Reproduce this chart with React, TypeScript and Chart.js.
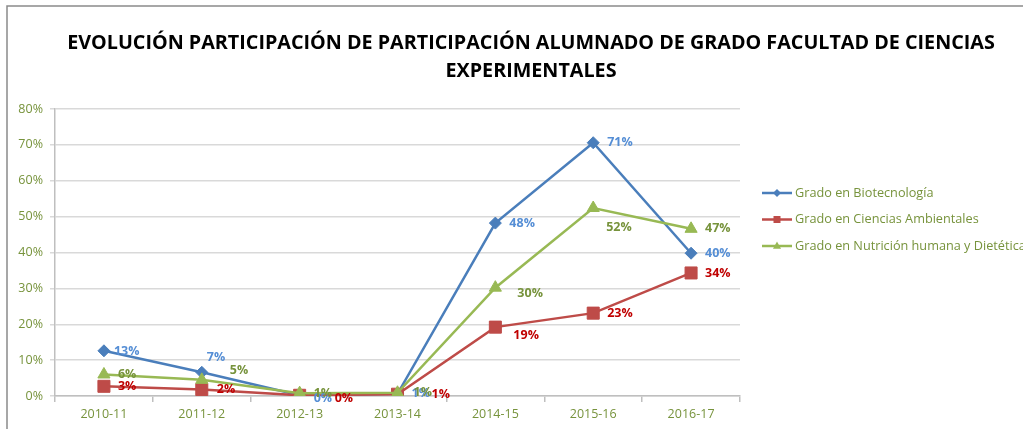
import { useEffect, useRef } from "react";
import { Chart, registerables } from "chart.js";

Chart.register(...registerables);

const titleLines = [
  "EVOLUCIÓN PARTICIPACIÓN DE PARTICIPACIÓN ALUMNADO DE GRADO FACULTAD DE CIENCIAS",
  "EXPERIMENTALES",
];
const categories = ["2010-11", "2011-12", "2012-13", "2013-14", "2014-15", "2015-16", "2016-17"];
const seriesNames = [
  "Grado en Biotecnología",
  "Grado en Ciencias Ambientales",
  "Grado en Nutrición humana y Dietética",
];
const biotecnologia = [12.6, 6.6, 0.2, 0.6, 48.2, 70.6, 39.8];
const cienciasAmbientales = [2.7, 1.8, 0.2, 0.5, 19.2, 23.1, 34.3];
const nutricion = [6.0, 4.5, 0.8, 0.9, 30.2, 52.4, 46.6];
const yMin = 0;
const yMax = 80;
const yStep = 10;

// label offsets (dx, dy) relative to each point
const labelOffsets = [
  [[10, 1], [5, -15], [14, 3], [14, 0], [14, 0], [14, 0], [14, 0]],
  [[14, 0], [15, 0], [35, 3], [34, 0], [18, 8], [14, 0], [14, 0]],
  [[14, 0], [28, -9], [14, 0], [16, 0], [22, 6], [13, 19], [14, 0]],
];

const lineColors = ["#4A7EBB", "#BE4B48", "#98B954"];
const labelColors = ["#558ED5", "#C00000", "#77933C"];
const pointStyles = ["rectRot", "rect", "triangle"];
const pointRadii = [6, 8.5, 7];
const textGreen = "#77933C";
const FONT = '"Open Sans", "DejaVu Sans", sans-serif';

function drawMarker(ctx: CanvasRenderingContext2D, style: string, x: number, y: number, r: number) {
  ctx.beginPath();
  if (style === "rectRot") {
    ctx.moveTo(x, y - r);
    ctx.lineTo(x + r, y);
    ctx.lineTo(x, y + r);
    ctx.lineTo(x - r, y);
  } else if (style === "rect") {
    ctx.rect(x - r, y - r, 2 * r, 2 * r);
  } else {
    ctx.moveTo(x, y - r);
    ctx.lineTo(x + r * 0.9, y + r * 0.6);
    ctx.lineTo(x - r * 0.9, y + r * 0.6);
  }
  ctx.closePath();
  ctx.fill();
}

const framePlugin = {
  id: "frame",
  beforeDraw(chart: any) {
    const ctx = chart.ctx;
    ctx.save();
    ctx.fillStyle = "#ffffff";
    ctx.fillRect(0, 0, chart.width, chart.height);
    ctx.strokeStyle = "#8A8A8A";
    ctx.lineWidth = 1.5;
    ctx.beginPath();
    ctx.moveTo(7, chart.height);
    ctx.lineTo(7, 6);
    ctx.lineTo(chart.width, 6);
    ctx.stroke();
    // title
    ctx.fillStyle = "#000000";
    ctx.textAlign = "center";
    ctx.textBaseline = "alphabetic";
    ctx.font = `bold 20px ${FONT}`;
    const w = ctx.measureText(titleLines[0]).width;
    const size = (20 * 928) / w;
    ctx.font = `bold ${size}px ${FONT}`;
    ctx.fillText(titleLines[0], 531, 49);
    ctx.fillText(titleLines[1], 531, 76.5);
    ctx.restore();
  },
};

const labelPlugin = {
  id: "pointLabels",
  afterDatasetsDraw(chart: any) {
    const ctx = chart.ctx;
    ctx.save();
    ctx.font = `bold 12.5px ${FONT}`;
    ctx.textAlign = "left";
    ctx.textBaseline = "middle";
    chart.data.datasets.forEach((ds: any, i: number) => {
      const meta = chart.getDatasetMeta(i);
      ctx.fillStyle = labelColors[i];
      meta.data.forEach((pt: any, j: number) => {
        const [dx, dy] = labelOffsets[i][j];
        ctx.fillText(Math.round(ds.data[j]) + "%", pt.x + dx, pt.y + dy);
      });
    });
    ctx.restore();
  },
};

const legendPlugin = {
  id: "customLegend",
  afterDraw(chart: any) {
    const ctx = chart.ctx;
    const x0 = chart.chartArea.right + 22;
    const ys = [193, 219.5, 246];
    ctx.save();
    ctx.font = `12.7px ${FONT}`;
    ctx.textAlign = "left";
    ctx.textBaseline = "middle";
    seriesNames.forEach((name, i) => {
      const y = ys[i];
      ctx.strokeStyle = lineColors[i];
      ctx.fillStyle = lineColors[i];
      ctx.lineWidth = 2.5;
      ctx.beginPath();
      ctx.moveTo(x0, y);
      ctx.lineTo(x0 + 30, y);
      ctx.stroke();
      drawMarker(ctx, pointStyles[i], x0 + 15, y, [4, 3.5, 4.5][i]);
      ctx.fillStyle = textGreen;
      ctx.fillText(name, x0 + 33, y);
    });
    ctx.restore();
  },
};

export default function App() {
  const ref = useRef<HTMLCanvasElement | null>(null);

  useEffect(() => {
    if (!ref.current) return;
    const series = [biotecnologia, cienciasAmbientales, nutricion];
    const chart = new Chart(ref.current, {
      type: "line",
      data: {
        labels: categories,
        datasets: series.map((data, i) => ({
          label: seriesNames[i],
          data,
          borderColor: lineColors[i],
          backgroundColor: lineColors[i],
          pointBackgroundColor: lineColors[i],
          pointBorderColor: lineColors[i],
          pointStyle: pointStyles[i] as any,
          pointRadius: pointRadii[i],
          pointBorderWidth: 1,
          borderWidth: 2.5,
          tension: 0,
          fill: false,
          order: 3 - i,
        })),
      },
      options: {
        responsive: false,
        animation: false,
        events: [],
        layout: { padding: { left: 8, top: 109, right: 283, bottom: 0 } },
        plugins: {
          legend: { display: false },
          title: { display: false },
          tooltip: { enabled: false },
        },
        scales: {
          x: {
            type: "category",
            offset: true,
            grid: {
              offset: true,
              drawOnChartArea: false,
              drawTicks: true,
              tickLength: 6,
              color: "#BFBFBF",
              lineWidth: 1.5,
            },
            border: { color: "#BFBFBF", width: 1.5 },
            ticks: {
              color: textGreen,
              font: { family: FONT, size: 12.5 },
              padding: 5,
              maxRotation: 0,
              autoSkip: false,
            },
            afterFit: (s: any) => {
              s.height = 33;
            },
          },
          y: {
            min: yMin,
            max: yMax,
            ticks: {
              stepSize: yStep,
              color: textGreen,
              font: { family: FONT, size: 12.5 },
              padding: 7,
              callback: (v: any) => v + "%",
            },
            grid: { color: "#D9D9D9", lineWidth: 1.5, tickLength: 5 },
            border: { color: "#BFBFBF", width: 1.5 },
            afterFit: (s: any) => {
              s.width = 47;
            },
          },
        },
      },
      plugins: [framePlugin, labelPlugin, legendPlugin],
    });
    return () => chart.destroy();
  }, []);

  return (
    <div
      style={{
        position: "fixed",
        left: 0,
        top: 0,
        width: 1023,
        height: 429,
        overflow: "hidden",
        background: "#fff",
      }}
    >
      <canvas ref={ref} width={1023} height={429} style={{ display: "block" }} />
    </div>
  );
}
